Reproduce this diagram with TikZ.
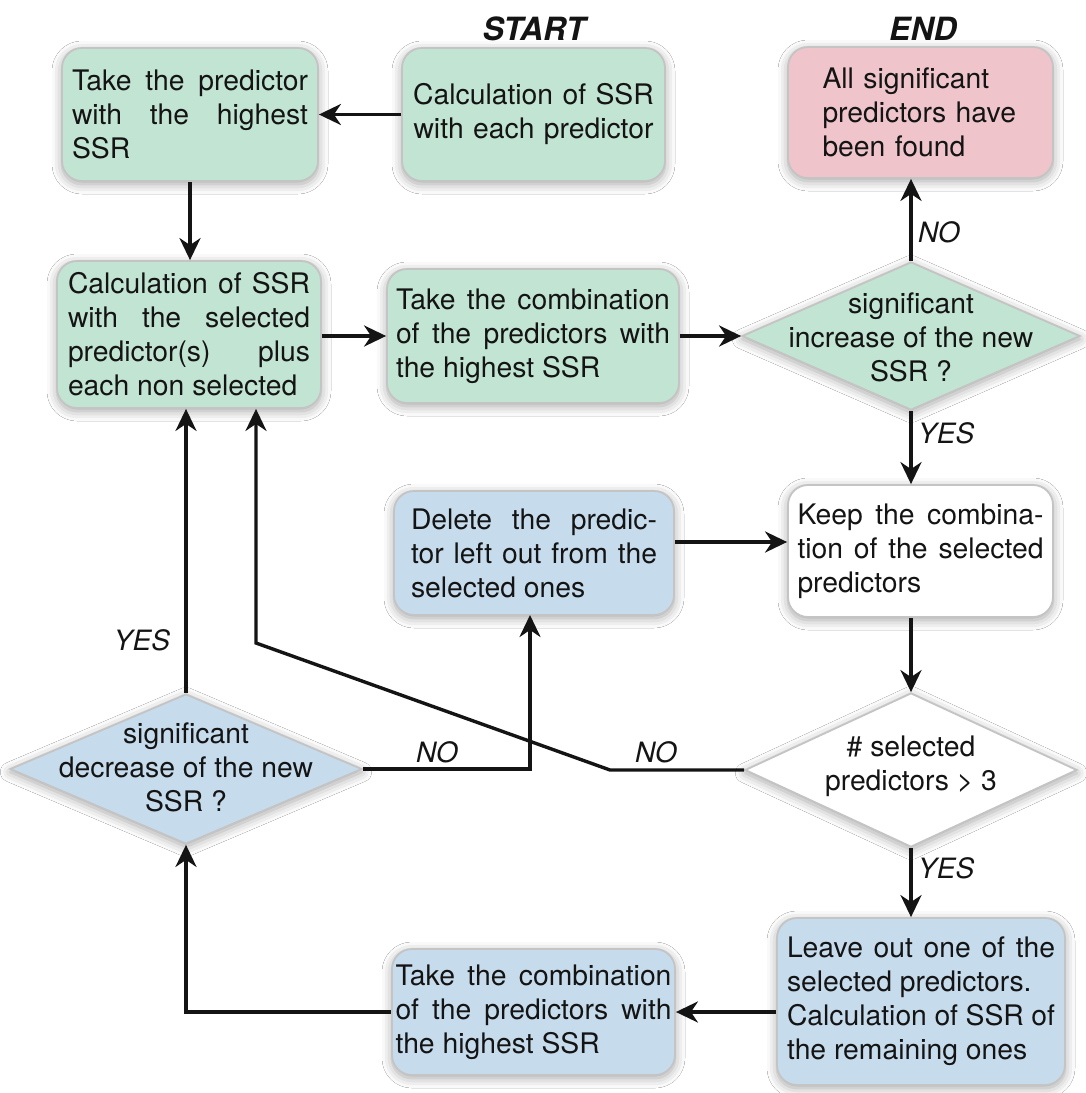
\documentclass[tikz,border=0pt]{standalone}
\usepackage{fontspec}
\setmainfont{TeX Gyre Heros}
\usetikzlibrary{shapes.geometric,arrows.meta,shadows.blur}
\tolerance=9999 \hbadness=10000 \hyphenpenalty=10000
\definecolor{grn}{HTML}{C2E4D3}
\definecolor{blu}{HTML}{C6DBEC}
\definecolor{pnk}{HTML}{EFC5CB}
\definecolor{bord}{HTML}{C4C4C4}
\definecolor{ink}{HTML}{141414}
\newcommand\bodyfont{\fontsize{28.3}{34}\selectfont}
\newcommand\labfont{\fontsize{28}{32}\selectfont\itshape}
\newcommand\dtext[2]{\raisebox{#1}[0pt][0pt]{\makebox[0pt]{\begin{tabular}{@{}c@{}}#2\end{tabular}}}}
\tikzset{
  shd/.style={blur shadow={shadow xshift=0pt, shadow yshift=-3pt, shadow blur radius=10pt, shadow opacity=36}},
  box/.style={shd, draw=bord, line width=1.8pt, rounded corners=20pt, inner sep=0pt, align=justify, font=\bodyfont, text=ink},
  dia/.style={shd, draw=bord, line width=1.8pt, shape=diamond, inner sep=0pt, font=\bodyfont, text=ink},
  arr/.style={line width=3.4pt, draw=ink, -{Stealth[length=22pt,width=21pt,inset=7pt]}},
  lab/.style={font=\labfont, text=ink, inner sep=0pt},
  ttl/.style={font={\fontsize{32}{36}\selectfont\bfseries\itshape}, text=ink, inner sep=0pt}
}
\begin{document}
\begin{tikzpicture}[x=1pt,y=-1pt]
\fill[white] (0,0) rectangle (1086,1093);
\useasboundingbox (0,0) rectangle (1086,1093);

% titles
\node[ttl] (st) at (534,29) {START};
\node[ttl] (en) at (923,29) {END};

% row 1
\node[box, fill=grn, minimum width=256pt, minimum height=133pt, text width=236pt] (A) at (190,114.5)
  {Take the predictor\linebreak with the highest\linebreak SSR};
\node[box, fill=grn, minimum width=263pt, minimum height=133pt, text width=244pt, align=center] (B) at (533.5,114.5)
  {Calculation of SSR\\with each predictor};
\node[box, fill=pnk, minimum width=265pt, minimum height=131pt, text width=196pt, align=left] (Z) at (920.5,112.5)
  {All significant\\predictors have\\been found};

% row 2
\node[box, fill=grn, minimum width=264pt, minimum height=147pt, text width=242pt] (C) at (189,334.5)
  {Calculation of SSR\linebreak with the selected\linebreak predictor(s) plus\linebreak each non selected};
\node[box, fill=grn, minimum width=292pt, minimum height=134pt, text width=274pt] (D) at (533,336)
  {Take the combination\linebreak of the predictors with\linebreak the highest SSR};
\node[dia, fill=grn, minimum width=338pt, minimum height=148pt] (d1) at (911,336)
  {\dtext{-11pt}{significant\\increase of the new\\SSR ?}};

% row 3
\node[box, fill=blu, minimum width=280pt, minimum height=124pt, text width=246pt] (E) at (534,553)
  {Delete the predic-\linebreak tor left out from the\linebreak selected ones};
\node[box, fill=white, minimum width=265pt, minimum height=132pt, text width=246pt] (F) at (920.5,551)
  {Keep the combina-\linebreak tion of the selected\linebreak predictors};

% row 4
\node[dia, fill=blu, minimum width=352pt, minimum height=150pt] (d3) at (186,769)
  {\dtext{-8pt}{significant\\decrease of the new\\SSR ?}};
\node[dia, fill=white, minimum width=332pt, minimum height=154pt] (d2) at (911,770)
  {\dtext{-3pt}{\# selected\\predictors > 3}};

% row 5
\node[box, fill=blu, minimum width=283pt, minimum height=126pt, text width=276pt] (T) at (533.5,1012)
  {Take the combination\linebreak of the predictors with\linebreak the highest SSR};
\node[box, fill=blu, minimum width=288pt, minimum height=167pt, text width=268pt] (L) at (921,1001.5)
  {Leave out one of the\linebreak selected predictors.\\Calculation of SSR of\linebreak the remaining ones};

% connectors
\draw[arr] (B.west) -- (A.east);
\draw[arr] (A.south) -- (A.south |- C.north);
\draw[arr] (C.east |- D.west) -- (D.west);
\draw[arr] (D.east) -- (D.east -| d1.west);
\draw[arr] (d1.north) -- (d1.north |- Z.south);
\draw[arr] (d1.south) -- (d1.south |- F.north);
\draw[arr] ([yshift=11pt]E.east) -- ([yshift=11pt]E.east -| F.west);
\draw[arr] (d2.north |- F.south) -- (d2.north);
\draw[arr] (d2.south) -- (d2.south |- L.north);
\draw[arr] (L.west |- T.east) -- (T.east);
\draw[arr] (T.west) -- (T.west -| d3.south) -- (d3.south);
\draw[arr] (d3.north) -- (d3.north |- C.south);
\coordinate (eb) at (530,615);
\draw[arr] (d3.east) -- (d3.east -| eb) -- (eb);
\coordinate (n1) at (610,770);
\coordinate (n2) at (256,643);
\draw[arr] (d2.west) -- (n1) -- (n2) -- (n2 |- C.south);

% labels
\node[lab, anchor=west] (noA) at (918,232) {NO};
\node[lab, anchor=west] (yesA) at (918,433) {YES};
\node[lab, anchor=west] (yesB) at (918,868) {YES};
\node[lab] (yesC) at (142,640) {YES};
\node[lab] (noB) at (437,752) {NO};
\node[lab] (noC) at (656,752) {NO};
\end{tikzpicture}
\end{document}
